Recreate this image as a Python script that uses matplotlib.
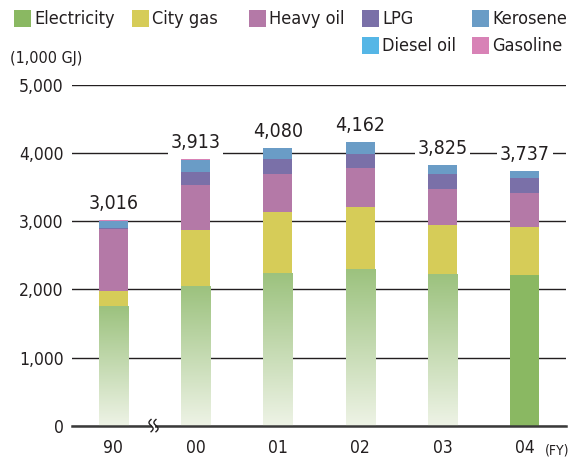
import matplotlib
matplotlib.use("Agg")
import matplotlib.pyplot as plt
import numpy as np
from matplotlib.patches import Rectangle
from matplotlib.colors import to_rgb

plt.rcParams['font.family'] = ['DejaVu Sans']
plt.rcParams['font.stretch'] = 'condensed'

years = ['90', '00', '01', '02', '03', '04']
electricity = [1750, 2044, 2235, 2294, 2221, 2206]
city_gas = [235, 824, 897, 912, 720, 706]
heavy_oil = [900, 661, 559, 573, 530, 500]
lpg = [23, 192, 221, 206, 220, 220]
kerosene = [102, 188, 160, 177, 134, 105]
diesel_oil = [3, 0, 8, 0, 0, 0]
gasoline = [3, 4, 0, 0, 0, 0]
totals = [3016, 3913, 4080, 4162, 3825, 3737]
total_labels = ['3,016', '3,913', '4,080', '4,162', '3,825', '3,737']
yticks = [0, 1000, 2000, 3000, 4000, 5000]
ytick_labels = ['0', '1,000', '2,000', '3,000', '4,000', '5,000']

series = [
    ('Electricity', electricity, '#8ab862'),
    ('City gas', city_gas, '#d6cc58'),
    ('Heavy oil', heavy_oil, '#b479a7'),
    ('LPG', lpg, '#7a70a8'),
    ('Kerosene', kerosene, '#6a9cc6'),
    ('Diesel oil', diesel_oil, '#55b6e6'),
    ('Gasoline', gasoline, '#d882b6'),
]
gradient_bars = [True, True, True, True, True, False]

W, H = 573, 462
fig = plt.figure(figsize=(W / 100, H / 100), dpi=100)
ax = fig.add_axes([72 / W, (H - 425.6) / H, 494 / W, 340.3 / H])

x = np.arange(len(years))
bw = 0.355
bottom = np.zeros(len(years))
elec_bars = None
for name, vals, col in series:
    bars = ax.bar(x, vals, bw, bottom=bottom, color=col, zorder=2, linewidth=0)
    if name == 'Electricity':
        elec_bars = bars
    bottom += np.array(vals)

# gradient for electricity bars
top_c = np.array(to_rgb('#9cc27e'))
bot_c = np.array(to_rgb('#eef3e6'))
grad = np.linspace(0, 1, 256)[:, None]
img = top_c[None, None, :] * (1 - grad[:, :, None]) + bot_c[None, None, :] * grad[:, :, None]
for i, b in enumerate(elec_bars):
    if gradient_bars[i]:
        b.set_facecolor('none')
        xl = b.get_x()
        im = ax.imshow(img, extent=(xl, xl + b.get_width(), 0, b.get_height()),
                       aspect='auto', zorder=2, origin='upper', interpolation='bilinear')
        im.set_clip_path(b)

ax.set_xlim(-0.5, 5.5)
ax.set_ylim(0, 5000)
ax.set_yticks(yticks)
ax.set_yticklabels(ytick_labels)
ax.set_xticks(x)
ax.set_xticklabels(years)
ax.tick_params(axis='both', length=0, labelsize=12.5, colors='#231f20')
ax.tick_params(axis='y', pad=6)
ax.tick_params(axis='x', pad=10)
for s in ax.spines.values():
    s.set_visible(False)
ax.yaxis.grid(True, color='#231f20', lw=1.0)
ax.set_axisbelow(True)
ax.axhline(0, color='#3a3a3a', lw=1.8, zorder=4, clip_on=False)

# axis break marks
bx = 0.49
t = np.linspace(-1, 1, 50)
for dx in (-0.03, 0.03):
    xs = bx + dx + 0.025 * np.sin(t * np.pi)
    ys = -t * 90
    ax.plot(xs, ys, color='#231f20', lw=1.0, zorder=6, clip_on=False)
ax.fill_betweenx(np.linspace(-40, 40, 10), bx - 0.02, bx + 0.02, color='white', zorder=5, clip_on=False, lw=0)

for xi, tot, lab in zip(x, totals, total_labels):
    ax.annotate(lab, (xi, tot), xytext=(0, 7), textcoords='offset pixels',
                ha='center', va='bottom', fontsize=14, color='#231f20', zorder=7,
                bbox=dict(boxstyle='square,pad=0.15', fc='white', ec='none'))

# legend
legend_pos = [
    (14, 10), (132, 10), (249, 10), (362, 10), (472, 10),
    (362, 37), (472, 37),
]
for (name, vals, col), (lx, ly) in zip(series, legend_pos):
    fig.patches.append(Rectangle((lx / W, 1 - (ly + 17) / H), 17 / W, 17 / H,
                                 transform=fig.transFigure, color=col, lw=0))
    fig.text((lx + 20) / W, 1 - (ly + 9) / H, name, fontsize=13, va='center',
             ha='left', color='#231f20')

fig.text(10 / W, 1 - 58 / H, '(1,000 GJ)', fontsize=11.5, va='center', ha='left', color='#231f20')
fig.text(545 / W, 1 - 451 / H, '(FY)', fontsize=10, va='center', ha='left', color='#231f20')

fig.savefig('out.png', dpi=100)
